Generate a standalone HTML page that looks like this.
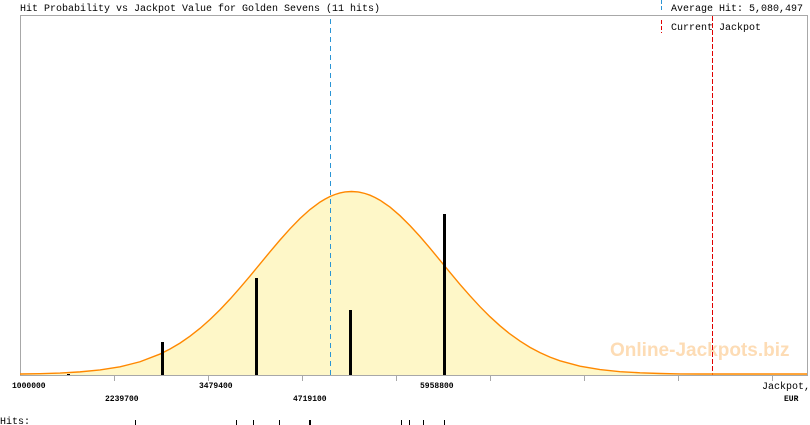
<!DOCTYPE html>
<html>
<head>
<meta charset="utf-8">
<style>
  html, body { margin: 0; padding: 0; background: #ffffff; }
  svg { display: block; }
  .mono { font-family: "Liberation Mono", "DejaVu Sans Mono", monospace; fill: #000; }
</style>
</head>
<body>
<svg width="810" height="425" viewBox="0 0 810 425" xmlns="http://www.w3.org/2000/svg" shape-rendering="crispEdges">
  <rect x="0" y="0" width="810" height="425" fill="#ffffff"/>

  <!-- fill under curve -->
  <path shape-rendering="geometricPrecision" fill="#fef7c8" stroke="none"
    d="M20,375 L20,373.76 L40,373.48 L60,372.92 L80,371.87 L100,369.99 L120,366.82 L140,361.75 L160,354.06 L170,349.03 L180,343.1 L190,336.2 L200,328.36 L210,319.52 L220,309.76 L230,299.16 L240,287.84 L250,276.02 L260,263.92 L270,251.8 L280,240 L290,228.8 L300,218.5 L310,209.5 L320,202.1 L325,199.1 L330,196.5 L335,194.5 L340,192.96 L345,191.97 L351.5,191.5 L358,191.97 L360,192.3 L365,193.5 L370,195.2 L375,197.5 L380,200.2 L390,207.1 L400,215.7 L410,225.6 L420,236.5 L430,248.2 L440,260.3 L450,272.4 L460,284.4 L470,295.8 L480,306.7 L490,316.7 L500,325.8 L510,334 L520,341.1 L530,347.4 L540,352.65 L550,357.1 L560,360.78 L580,366.2 L600,369.61 L620,371.65 L640,372.8 L660,373.42 L680,373.73 L700,373.9 L807,374 L807,375 Z"/>

  <!-- watermark -->
  <text x="610" y="356" font-family="'Liberation Sans', Arial, sans-serif" font-weight="bold" font-size="19" fill="#fddcb5">Online-Jackpots.biz</text>

  <!-- frame -->
  <line x1="20" y1="15.5" x2="808" y2="15.5" stroke="#a8a8a8" stroke-width="1"/>
  <line x1="20.5" y1="15" x2="20.5" y2="376" stroke="#a8a8a8" stroke-width="1"/>
  <line x1="807.5" y1="15" x2="807.5" y2="376" stroke="#a8a8a8" stroke-width="1"/>
  <line x1="20" y1="375.5" x2="808" y2="375.5" stroke="#a8a8a8" stroke-width="1"/>

  <!-- axis ticks -->
  <g stroke="#a8a8a8" stroke-width="1">
    <line x1="114.5" y1="375" x2="114.5" y2="381"/>
    <line x1="208.5" y1="375" x2="208.5" y2="381"/>
    <line x1="302.5" y1="375" x2="302.5" y2="381"/>
    <line x1="396.5" y1="375" x2="396.5" y2="381"/>
    <line x1="490.5" y1="375" x2="490.5" y2="381"/>
    <line x1="584.5" y1="375" x2="584.5" y2="381"/>
    <line x1="678.5" y1="375" x2="678.5" y2="381"/>
    <line x1="772.5" y1="375" x2="772.5" y2="381"/>
  </g>

  <!-- average hit line (blue dashed) -->
  <line x1="330.5" y1="19" x2="330.5" y2="375" stroke="#2a95d5" stroke-width="1" stroke-dasharray="5,4"/>
  <!-- current jackpot line (red dashed) -->
  <line x1="712.5" y1="16" x2="712.5" y2="375" stroke="#e00000" stroke-width="1" stroke-dasharray="5,2"/>

  <!-- curve -->
  <polyline shape-rendering="geometricPrecision" fill="none" stroke="#ff8800" stroke-width="1.4"
    points="20,374 40,373.7 60,373.1 80,371.87 100,369.99 120,366.82 140,361.75 160,354.06 170,349.03 180,343.1 190,336.2 200,328.36 210,319.52 220,309.76 230,299.16 240,287.84 250,276.02 260,263.92 270,251.8 280,240 290,228.8 300,218.5 310,209.5 320,202.1 325,199.1 330,196.5 335,194.5 340,192.96 345,191.97 351.5,191.5 358,191.97 360,192.3 365,193.5 370,195.2 375,197.5 380,200.2 390,207.1 400,215.7 410,225.6 420,236.5 430,248.2 440,260.3 450,272.4 460,284.4 470,295.8 480,306.7 490,316.7 500,325.8 510,334 520,341.1 530,347.4 540,352.65 550,357.1 560,360.78 580,366.2 600,369.61 620,371.65 640,372.8 660,373.5 680,373.9 700,374 807,374"/>

  <!-- hit bars -->
  <rect x="161" y="342" width="3" height="33" fill="#000"/>
  <rect x="255" y="278" width="3" height="97" fill="#000"/>
  <rect x="349" y="310" width="3" height="65" fill="#000"/>
  <rect x="443" y="214" width="3" height="161" fill="#000"/>
  <rect x="67" y="374" width="3" height="1" fill="#000"/>

  <!-- title & legend -->
  <text class="mono" x="20" y="11" font-size="10">Hit Probability vs Jackpot Value for Golden Sevens (11 hits)</text>
  <line x1="661.5" y1="0" x2="661.5" y2="11" stroke="#2a95d5" stroke-width="1" stroke-dasharray="4,2"/>
  <text class="mono" x="671" y="11" font-size="10">Average Hit: 5,080,497</text>
  <line x1="661.5" y1="20" x2="661.5" y2="33" stroke="#e00000" stroke-width="1" stroke-dasharray="4,2"/>
  <text class="mono" x="671" y="30" font-size="10">Current Jackpot</text>

  <!-- x labels -->
  <text class="mono" x="12" y="388" font-size="8" font-weight="bold">1000000</text>
  <text class="mono" x="105" y="401" font-size="8" font-weight="bold">2239700</text>
  <text class="mono" x="199" y="388" font-size="8" font-weight="bold">3479400</text>
  <text class="mono" x="293" y="401" font-size="8" font-weight="bold">4719100</text>
  <text class="mono" x="420" y="388" font-size="8" font-weight="bold">5958800</text>
  <text class="mono" x="762" y="389" font-size="10">Jackpot,</text>
  <text class="mono" x="784" y="401" font-size="8" font-weight="bold">EUR</text>

  <!-- hits row -->
  <text class="mono" x="0" y="424" font-size="10">Hits:</text>
  <g fill="#000">
    <rect x="135" y="420" width="1" height="5"/>
    <rect x="236" y="420" width="1" height="5"/>
    <rect x="253" y="420" width="1" height="5"/>
    <rect x="279" y="420" width="1" height="5"/>
    <rect x="309" y="420" width="2" height="5"/>
    <rect x="401" y="420" width="1" height="5"/>
    <rect x="409" y="420" width="1" height="5"/>
    <rect x="423" y="420" width="1" height="5"/>
    <rect x="444" y="420" width="1" height="5"/>
  </g>
</svg>
</body>
</html>
